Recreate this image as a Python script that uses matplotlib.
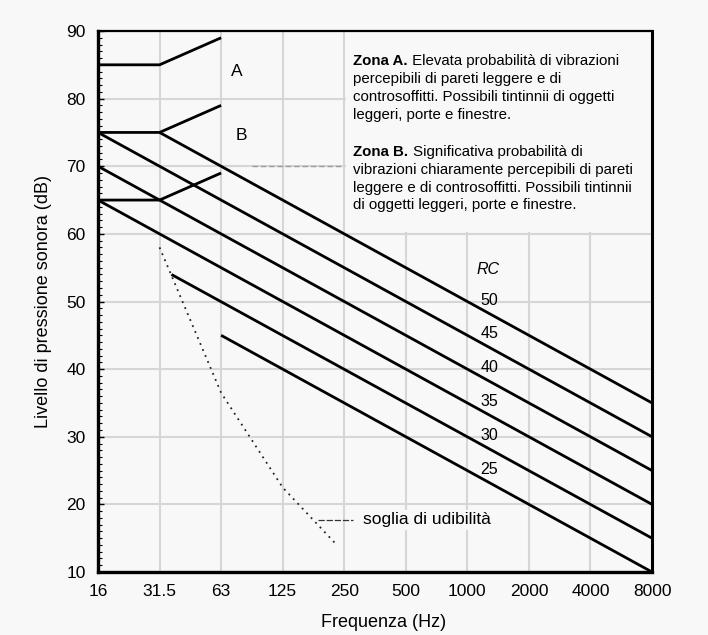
import numpy as np
import matplotlib
matplotlib.use("Agg")
import matplotlib.pyplot as plt
from matplotlib.patches import Rectangle

plt.rcParams['font.family'] = ['Liberation Sans', 'DejaVu Sans']

# ---- data ----
band_labels = ["16", "31.5", "63", "125", "250", "500", "1000", "2000", "4000", "8000"]
band_hz = [16, 31.5, 63, 125, 250, 500, 1000, 2000, 4000, 8000]

rc_values = [50, 45, 40, 35, 30, 25]
rc_start_hz = [31.5, 16, 16, 16, 36, 63]
rc_start_level = [75, 75, 70, 65, 54, 45]
rc_end_hz = [8000, 8000, 8000, 8000, 8000, 8000]
rc_end_level = [35, 30, 25, 20, 15, 10]

zone_hz = [16, 31.5, 63]
zone_a_level = [85, 85, 89]
zone_b_level = [75, 75, 79]
zone_low_level = [65, 65, 69]

threshold_hz = [31.5, 63, 125, 230]
threshold_level = [58, 36.5, 22.5, 14]

zone_a_title = "Zona A."
zone_a_lines = [" Elevata probabilità di vibrazioni",
                "percepibili di pareti leggere e di",
                "controsoffitti. Possibili tintinnii di oggetti",
                "leggeri, porte e finestre."]
zone_b_title = "Zona B."
zone_b_lines = [" Significativa probabilità di",
                "vibrazioni chiaramente percepibili di pareti",
                "leggere e di controsoffitti. Possibili tintinnii",
                "di oggetti leggeri, porte e finestre."]


def pos(f):
    return np.interp(np.log2(f), np.log2(band_hz), np.arange(len(band_hz)))


bg = "#f8f8f8"
fig = plt.figure(figsize=(7.08, 6.35), dpi=100, facecolor=bg)
ax = fig.add_axes([98 / 708, 1 - 572 / 635, (652 - 98) / 708, (572 - 31) / 635])
ax.set_facecolor(bg)
ax.set_xlim(0, 9)
ax.set_ylim(10, 90)
ax.set_axisbelow(True)

ax.set_xticks(np.arange(len(band_labels)))
ax.set_xticklabels(band_labels)
ax.set_yticks(np.arange(10, 91, 10))
ax.set_yticks(np.arange(10, 91, 1), minor=True)
ax.tick_params(axis='x', length=0, pad=9, labelsize=12.5)
ax.tick_params(axis='y', which='major', direction='in', length=4, width=1, pad=9, labelsize=12.5)
ax.tick_params(axis='y', which='minor', direction='in', length=3, width=0.8)
ax.grid(True, which='major', color='#d6d6d6', linewidth=1.5)

for side, w in [('left', 2.4), ('bottom', 2.4), ('right', 2.2), ('top', 1.6)]:
    ax.spines[side].set_linewidth(w)

# white box behind the zone descriptions
ax.add_patch(Rectangle((4.03, 60.25), 4.97, 29.75, facecolor=bg, edgecolor='none', zorder=1))
ax.plot([2.5, 3.95], [70, 70], color='#9a9a9a', lw=1.0, ls=(0, (4, 2)), zorder=1.2)

lw = 2.0
for s_hz, s_lv, e_hz, e_lv in zip(rc_start_hz, rc_start_level, rc_end_hz, rc_end_level):
    ax.plot(pos([s_hz, e_hz]), [s_lv, e_lv], color='black', lw=lw, solid_capstyle='butt', zorder=3)

for lv in (zone_a_level, zone_b_level, zone_low_level):
    ax.plot(pos(zone_hz), lv, color='black', lw=lw, solid_capstyle='butt', zorder=3)

ax.plot(pos(threshold_hz), threshold_level, color='#222222', lw=1.3,
        ls=(0, (1, 2.6)), zorder=3)

# zone letters
ax.text(2.26, 84.0, "A", fontsize=12.5, ha='center', va='center')
ax.text(2.33, 74.6, "B", fontsize=12.5, ha='center', va='center')

# RC labels
ax.text(6.34, 54.8, "RC", fontsize=11.5, style='italic', ha='center', va='center', zorder=4)
for v in rc_values:
    ax.text(6.36, v + 0.2, str(v), fontsize=11.5, ha='center', va='center', zorder=4)

# threshold annotation
ax.plot([3.58, 4.15], [17.7, 17.7], color='#333333', lw=0.9, ls=(0, (5, 1.5)), zorder=3)
ax.text(4.3, 17.7, "soglia di udibilità", fontsize=12.5, ha='left', va='center', zorder=4,
        bbox=dict(facecolor=bg, edgecolor='none', pad=1.5))

# zone texts
fs = 10.8
step = 2.63
x0 = 4.15
for title, lines, y0 in [(zone_a_title, zone_a_lines, 85.5), (zone_b_title, zone_b_lines, 72.1)]:
    t = ax.text(x0, y0, title, fontsize=fs, fontweight='bold', ha='left', va='center', zorder=4)
    ax.annotate(lines[0], xy=(1, 0.5), xycoords=t, fontsize=fs, ha='left', va='center', zorder=4)
    for i, ln in enumerate(lines[1:], start=1):
        ax.text(x0, y0 - i * step, ln, fontsize=fs, ha='left', va='center', zorder=4)

ax.set_xlabel("Frequenza (Hz)", fontsize=13, va='center', ha='center')
ax.xaxis.set_label_coords(0.516, -0.094)
ax.set_ylabel("Livello di pressione sonora (dB)", fontsize=13, va='center', ha='center')
ax.yaxis.set_label_coords(-0.099, 0.5)

fig.savefig("out.png", dpi=100, facecolor=bg)
